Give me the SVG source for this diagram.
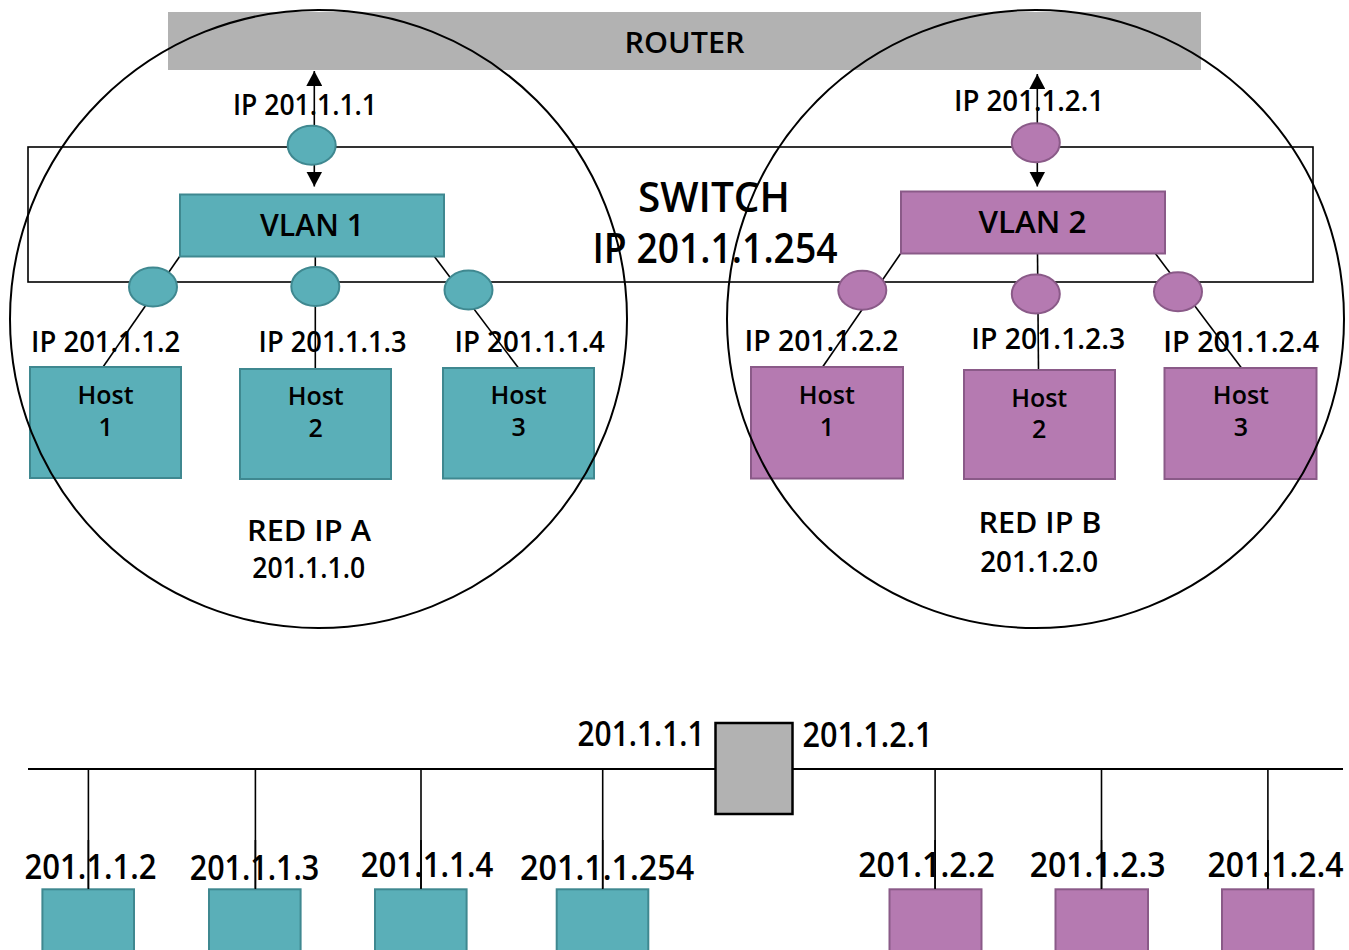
<svg xmlns="http://www.w3.org/2000/svg" width="1349" height="950" viewBox="0 0 1349 950">
  <defs>
    <style>
      text { font-family: "Open Sans", "Noto Sans", "Liberation Sans", sans-serif; fill: #000; text-anchor: middle; font-weight: 600; }
      .lbl { font-size: 29px; }
      .host { font-size: 25px; }
      .vlan { font-size: 31px; }
      .big { font-size: 41px; }
      .bus { font-size: 34px; }
      .teal { fill: #5aafb8; stroke: #3f8890; stroke-width: 2; }
      .purple { fill: #b57ab1; stroke: #8a5a88; stroke-width: 2; }
      .gray { fill: #b2b2b2; }
      .wire { stroke: #000; stroke-width: 1.6; fill: none; }
      .net { stroke: #000; stroke-width: 2; fill: none; }
    </style>
    <marker id="head" viewBox="0 0 15 16" refX="15" refY="8" markerWidth="15" markerHeight="16" markerUnits="userSpaceOnUse" orient="auto-start-reverse">
      <path d="M0,0 L15,8 L0,16 z" fill="#000"/>
    </marker>
  </defs>

  <rect width="1349" height="950" fill="#fff"/>

  <!-- router bar -->
  <g id="router">
    <rect class="gray" x="168" y="12" width="1033" height="58"/>
    <text class="lbl" x="684.5" y="52.5" textLength="120" lengthAdjust="spacingAndGlyphs">ROUTER</text>
  </g>

  <!-- switch frame -->
  <g id="switch">
    <rect x="28" y="147" width="1285" height="135" fill="none" stroke="#000" stroke-width="1.6"/>
    <text class="big" x="714" y="212.3" textLength="152" lengthAdjust="spacingAndGlyphs">SWITCH</text>
    <text class="big" x="715" y="262.7" textLength="245" lengthAdjust="spacingAndGlyphs">IP 201.1.1.254</text>
  </g>

  <!-- interface labels -->
  <g id="labels">
    <text class="lbl" x="305" y="115" textLength="144" lengthAdjust="spacingAndGlyphs">IP 201.1.1.1</text>
    <text class="lbl" x="1029" y="110.7" textLength="150" lengthAdjust="spacingAndGlyphs">IP 201.1.2.1</text>
    <text class="lbl" x="105.6" y="352.3" textLength="149" lengthAdjust="spacingAndGlyphs">IP 201.1.1.2</text>
    <text class="lbl" x="332.6" y="352.3" textLength="148" lengthAdjust="spacingAndGlyphs">IP 201.1.1.3</text>
    <text class="lbl" x="529.7" y="352.3" textLength="150.5" lengthAdjust="spacingAndGlyphs">IP 201.1.1.4</text>
    <text class="lbl" x="821.5" y="350.7" textLength="154" lengthAdjust="spacingAndGlyphs">IP 201.1.2.2</text>
    <text class="lbl" x="1048.3" y="349.3" textLength="154" lengthAdjust="spacingAndGlyphs">IP 201.1.2.3</text>
    <text class="lbl" x="1241.3" y="352.3" textLength="156" lengthAdjust="spacingAndGlyphs">IP 201.1.2.4</text>
    <text class="lbl" x="309" y="540.7" textLength="124" lengthAdjust="spacingAndGlyphs">RED IP A</text>
    <text class="lbl" x="308.7" y="578.3" textLength="113" lengthAdjust="spacingAndGlyphs">201.1.1.0</text>
    <text class="lbl" x="1040" y="533.3" textLength="123" lengthAdjust="spacingAndGlyphs">RED IP B</text>
    <text class="lbl" x="1039.2" y="572.3" textLength="118" lengthAdjust="spacingAndGlyphs">201.1.2.0</text>
  </g>

  <!-- links between router, VLANs, ports and hosts -->
  <g id="connectors">
    <line class="wire" x1="314.3" y1="71" x2="314.3" y2="186.5" marker-start="url(#head)" marker-end="url(#head)"/>
    <line class="wire" x1="1037.3" y1="74" x2="1037.3" y2="186.5" marker-start="url(#head)" marker-end="url(#head)"/>
    <line class="wire" x1="180" y1="256" x2="103" y2="367"/>
    <line class="wire" x1="315.3" y1="256" x2="315.3" y2="369"/>
    <line class="wire" x1="434" y1="256" x2="518.5" y2="368"/>
    <line class="wire" x1="901" y1="253" x2="822.6" y2="367"/>
    <line class="wire" x1="1037.5" y1="253" x2="1038.5" y2="370"/>
    <line class="wire" x1="1155" y1="253" x2="1241.5" y2="368"/>
    <!-- flat view: bus and drops -->
    <line class="net" x1="28" y1="769" x2="1343" y2="769" stroke-width="2.5"/>
    <line class="wire" x1="88.4" y1="769" x2="88.4" y2="890"/>
    <line class="wire" x1="255.4" y1="769" x2="255.4" y2="890"/>
    <line class="wire" x1="421" y1="769" x2="421" y2="890"/>
    <line class="wire" x1="602.7" y1="769" x2="602.7" y2="890"/>
    <line class="wire" x1="935.1" y1="769" x2="935.1" y2="890"/>
    <line class="wire" x1="1101.5" y1="769" x2="1101.5" y2="890"/>
    <line class="wire" x1="1267.9" y1="769" x2="1267.9" y2="890"/>
  </g>

  <!-- router ports -->
  <g id="port-a0"><ellipse class="teal" cx="311.7" cy="145.3" rx="24" ry="19.5"/></g>
  <g id="port-b0"><ellipse class="purple" cx="1035.8" cy="142.8" rx="24" ry="19.5"/></g>

  <!-- VLANs -->
  <g id="vlan1">
    <rect class="teal" x="180" y="194.5" width="264" height="62"/>
    <text class="vlan" x="312" y="236" textLength="104" lengthAdjust="spacingAndGlyphs">VLAN 1</text>
  </g>
  <g id="vlan2">
    <rect class="purple" x="901" y="191.5" width="264" height="62"/>
    <text class="vlan" x="1032.5" y="233.3" textLength="108" lengthAdjust="spacingAndGlyphs">VLAN 2</text>
  </g>

  <!-- access ports -->
  <g id="port-a1"><ellipse class="teal" cx="153" cy="287" rx="24" ry="19.5"/></g>
  <g id="port-a2"><ellipse class="teal" cx="315.3" cy="286.4" rx="24" ry="19.5"/></g>
  <g id="port-a3"><ellipse class="teal" cx="468.5" cy="290" rx="24" ry="19.5"/></g>
  <g id="port-b1"><ellipse class="purple" cx="862.3" cy="290.3" rx="24" ry="19.5"/></g>
  <g id="port-b2"><ellipse class="purple" cx="1035.8" cy="294" rx="24" ry="19.5"/></g>
  <g id="port-b3"><ellipse class="purple" cx="1178" cy="291.7" rx="24" ry="19.5"/></g>

  <!-- hosts, network A -->
  <g id="host-a1">
    <rect class="teal" x="30" y="367" width="151" height="111"/>
    <text class="host" x="105.6" y="404">Host</text>
    <text class="host" x="105.6" y="436">1</text>
  </g>
  <g id="host-a2">
    <rect class="teal" x="240" y="369" width="151" height="110"/>
    <text class="host" x="315.7" y="405.3">Host</text>
    <text class="host" x="315.7" y="436.7">2</text>
  </g>
  <g id="host-a3">
    <rect class="teal" x="443" y="368" width="151" height="110.5"/>
    <text class="host" x="518.6" y="404">Host</text>
    <text class="host" x="518.6" y="436">3</text>
  </g>

  <!-- hosts, network B -->
  <g id="host-b1">
    <rect class="purple" x="751" y="367" width="152" height="111.5"/>
    <text class="host" x="826.8" y="404">Host</text>
    <text class="host" x="826.8" y="436">1</text>
  </g>
  <g id="host-b2">
    <rect class="purple" x="964" y="370" width="151" height="109"/>
    <text class="host" x="1039.2" y="406.7">Host</text>
    <text class="host" x="1039.2" y="438.3">2</text>
  </g>
  <g id="host-b3">
    <rect class="purple" x="1164.5" y="368" width="152" height="111"/>
    <text class="host" x="1240.9" y="404">Host</text>
    <text class="host" x="1240.9" y="436">3</text>
  </g>

  <!-- subnet outlines -->
  <g id="net-a"><ellipse class="net" cx="318.5" cy="319" rx="308.5" ry="309"/></g>
  <g id="net-b"><ellipse class="net" cx="1035.5" cy="319" rx="308.5" ry="309"/></g>

  <!-- flat view: router and stations -->
  <g id="bus-router">
    <rect class="gray" x="715.5" y="723" width="77" height="91" stroke="#000" stroke-width="2.5"/>
    <text class="bus" x="641" y="746" textLength="127" lengthAdjust="spacingAndGlyphs">201.1.1.1</text>
    <text class="bus" x="867.5" y="746.7" textLength="130" lengthAdjust="spacingAndGlyphs">201.1.2.1</text>
  </g>
  <g id="st-a1">
    <text class="bus" x="90.5" y="879" textLength="132" lengthAdjust="spacingAndGlyphs">201.1.1.2</text>
    <rect class="teal" x="42.4" y="889.3" width="91.6" height="64"/>
  </g>
  <g id="st-a2">
    <text class="bus" x="254.5" y="880" textLength="129.5" lengthAdjust="spacingAndGlyphs">201.1.1.3</text>
    <rect class="teal" x="209" y="889.3" width="91.6" height="64"/>
  </g>
  <g id="st-a3">
    <text class="bus" x="427" y="876.7" textLength="132.6" lengthAdjust="spacingAndGlyphs">201.1.1.4</text>
    <rect class="teal" x="375" y="889.3" width="91.6" height="64"/>
  </g>
  <g id="st-a4">
    <text class="bus" x="607.1" y="880" textLength="174" lengthAdjust="spacingAndGlyphs">201.1.1.254</text>
    <rect class="teal" x="556.7" y="889.3" width="91.6" height="64"/>
  </g>
  <g id="st-b1">
    <text class="bus" x="926.5" y="876.7" textLength="136.5" lengthAdjust="spacingAndGlyphs">201.1.2.2</text>
    <rect class="purple" x="889.5" y="889.3" width="92" height="64"/>
  </g>
  <g id="st-b2">
    <text class="bus" x="1097.6" y="876.7" textLength="135.7" lengthAdjust="spacingAndGlyphs">201.1.2.3</text>
    <rect class="purple" x="1055.5" y="889.3" width="92.5" height="64"/>
  </g>
  <g id="st-b3">
    <text class="bus" x="1275.5" y="876.7" textLength="136" lengthAdjust="spacingAndGlyphs">201.1.2.4</text>
    <rect class="purple" x="1222" y="889.3" width="91.5" height="64"/>
  </g>

  <!-- drops pass over the station labels -->
  <g id="drop-overlay">
    <line class="wire" x1="88.4" y1="840" x2="88.4" y2="889"/>
    <line class="wire" x1="255.4" y1="840" x2="255.4" y2="889"/>
    <line class="wire" x1="421" y1="840" x2="421" y2="889"/>
    <line class="wire" x1="602.7" y1="840" x2="602.7" y2="889"/>
    <line class="wire" x1="935.1" y1="840" x2="935.1" y2="889"/>
    <line class="wire" x1="1101.5" y1="840" x2="1101.5" y2="889"/>
    <line class="wire" x1="1267.9" y1="840" x2="1267.9" y2="889"/>
  </g>
</svg>
